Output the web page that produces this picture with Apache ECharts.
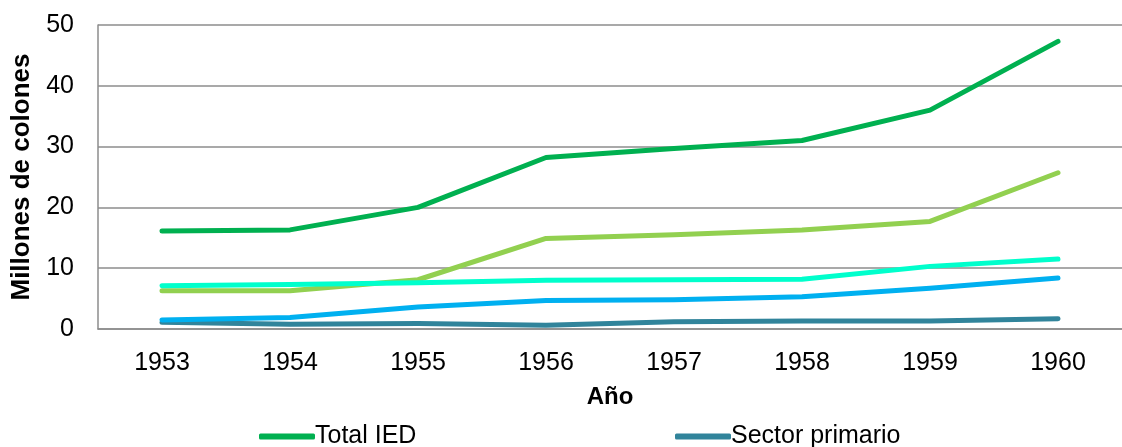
<!DOCTYPE html>
<html>
<head>
<meta charset="utf-8">
<script src="https://cdn.jsdelivr.net/npm/echarts@6/dist/echarts.min.js"></script>
<style>
  html, body { margin: 0; padding: 0; background: #fff; }
  #chart { width: 1122px; height: 447px; }
</style>
</head>
<body>
<div id="chart"></div>
<script>
// Years on the horizontal axis
const years = ['1953', '1954', '1955', '1956', '1957', '1958', '1959', '1960'];

// Foreign direct investment, millions of colones
const totalIED = [16.1, 16.3, 20.0, 28.2, 29.7, 31.0, 36.0, 47.3];
const sectorPrimario = [1.1, 0.8, 0.9, 0.6, 1.2, 1.3, 1.3, 1.7];
const sectorSecundario = [6.3, 6.3, 8.1, 14.9, 15.5, 16.3, 17.7, 25.7];
const sectorTerciario = [7.1, 7.3, 7.6, 8.0, 8.1, 8.2, 10.3, 11.5];
const otrosSectores = [1.5, 1.9, 3.6, 4.7, 4.8, 5.3, 6.7, 8.4];

// Y axis ticks
const yTicks = [0, 10, 20, 30, 40, 50];

const seriesDefs = [
  { name: 'Total IED', data: totalIED, color: '#00B050' },
  { name: 'Sector primario', data: sectorPrimario, color: '#31849B' },
  { name: 'Sector secundario', data: sectorSecundario, color: '#92D050' },
  { name: 'Sector terciario', data: sectorTerciario, color: '#00FFCC' },
  { name: 'Otros sectores', data: otrosSectores, color: '#00B0F0' }
];

// Legend is laid out in two columns, row by row
const legendColumnA = seriesDefs.filter((s, i) => i % 2 === 0).map(s => s.name);
const legendColumnB = seriesDefs.filter((s, i) => i % 2 === 1).map(s => s.name);

const font = 'Arial, "Liberation Sans", sans-serif';
const chart = echarts.init(document.getElementById('chart'), null, { renderer: 'canvas' });

const legendBase = {
  orient: 'vertical',
  top: 419,
  height: 400,
  itemWidth: 56,
  itemHeight: 6,
  itemGap: 14,
  icon: 'roundRect',
  textStyle: { fontFamily: font, fontSize: 25, color: '#000', padding: [0, 0, 0, -5] }
};

chart.setOption({
  animation: false,
  backgroundColor: '#ffffff',
  grid: { left: 98, top: 25, width: 1035, height: 304, containLabel: false },
  legend: [
    Object.assign({}, legendBase, { left: 254, data: legendColumnA }),
    Object.assign({}, legendBase, { left: 670, data: legendColumnB })
  ],
  xAxis: {
    type: 'category',
    data: years,
    boundaryGap: true,
    name: 'Año',
    nameLocation: 'middle',
    nameGap: 56,
    nameTextStyle: { fontFamily: font, fontSize: 24, fontWeight: 'bold', color: '#000' },
    axisLine: { show: true, lineStyle: { color: '#8c8c8c', width: 1.5 } },
    axisTick: { show: false },
    axisLabel: { fontFamily: font, fontSize: 25, color: '#000', margin: 22 },
    splitLine: { show: false }
  },
  yAxis: {
    type: 'value',
    min: yTicks[0],
    max: yTicks[yTicks.length - 1],
    interval: yTicks[1] - yTicks[0],
    name: 'Millones de colones',
    nameLocation: 'middle',
    nameGap: 60,
    nameRotate: 90,
    nameTextStyle: { fontFamily: font, fontSize: 26, fontWeight: 'bold', color: '#000' },
    axisLine: { show: true, lineStyle: { color: '#8c8c8c', width: 1.5 } },
    axisTick: { show: false },
    axisLabel: { fontFamily: font, fontSize: 25, color: '#000', margin: 24 },
    splitLine: { show: true, lineStyle: { color: '#8c8c8c', width: 1.5 } }
  },
  series: seriesDefs.map(s => ({
    name: s.name,
    type: 'line',
    data: s.data,
    symbol: 'none',
    color: s.color,
    lineStyle: { color: s.color, width: 5, cap: 'round', join: 'round' },
    z: 2
  }))
});
</script>
</body>
</html>
